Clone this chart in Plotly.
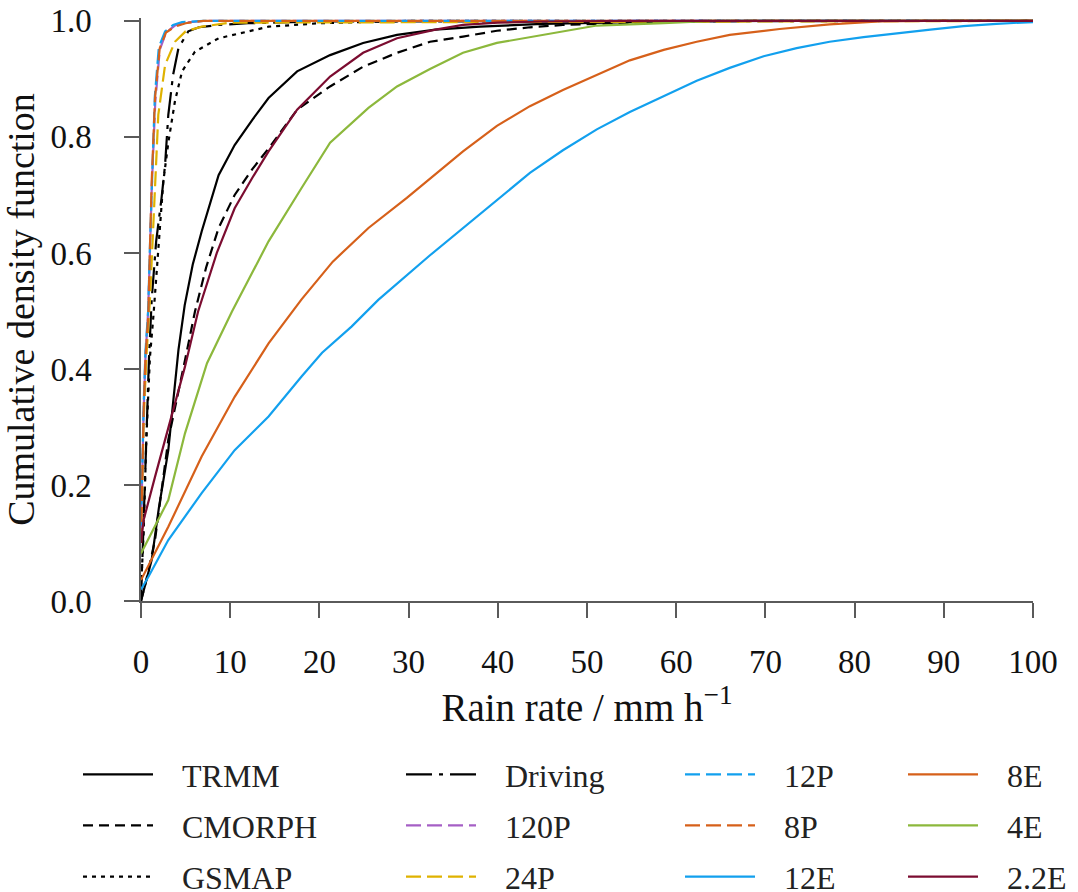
import plotly.graph_objects as go

# ---- data (rain rate mm/h, cumulative fraction) ----
trmm_x = [0, 0.5, 1.2, 2.0, 3.06, 4.2, 4.9, 5.8, 6.8, 8.7, 10.5, 12.5, 14.3, 17.5, 21.2, 24.9, 28.7, 33, 38, 45, 55, 70, 100]
trmm_y = [0, 0.03, 0.071, 0.16, 0.26, 0.433, 0.51, 0.58, 0.637, 0.734, 0.786, 0.83, 0.867, 0.913, 0.941, 0.962, 0.976, 0.985, 0.99, 0.995, 0.998, 1.0, 1.0]

cmorph_x = [0, 0.5, 1.57, 3.06, 4.93, 6.05, 7.3, 8.7, 10.5, 12.5, 14.3, 17.5, 21.2, 24.9, 28.7, 32.4, 36.1, 39.9, 43.6, 47.3, 51, 56, 62, 70, 100]
cmorph_y = [0, 0.03, 0.105, 0.278, 0.415, 0.499, 0.575, 0.643, 0.70, 0.745, 0.78, 0.847, 0.887, 0.921, 0.945, 0.964, 0.973, 0.983, 0.989, 0.993, 0.995, 0.998, 1.0, 1.0, 1.0]

gsmap_x = [0, 0.3, 0.6, 1.0, 1.4, 1.94, 2.5, 3.06, 3.8, 4.6, 6.05, 8.7, 14.3, 20, 30, 100]
gsmap_y = [0.02, 0.12, 0.28, 0.42, 0.493, 0.608, 0.723, 0.79, 0.861, 0.913, 0.947, 0.97, 0.99, 0.996, 1.0, 1.0]

driving_x = [0, 0.3, 0.6, 0.9, 1.2, 1.7, 2.3, 2.7, 3.06, 3.6, 4.2, 5.3, 6.5, 8.7, 12, 20, 100]
driving_y = [0, 0.15, 0.3, 0.42, 0.52, 0.62, 0.694, 0.752, 0.838, 0.907, 0.953, 0.982, 0.989, 0.993, 0.996, 0.999, 1.0]

p120_x = [0, 0.1, 0.3, 0.5, 0.8, 1.0, 1.2, 1.6, 2.1, 2.8, 3.8, 5, 7, 100]
p120_y = [0.12, 0.21, 0.33, 0.42, 0.5, 0.6, 0.71, 0.86, 0.95, 0.98, 0.992, 0.997, 1.0, 1.0]

p24_x = [0, 0.1, 0.3, 0.6, 1.0, 1.3, 1.57, 1.94, 2.7, 3.8, 5, 6.8, 10, 100]
p24_y = [0.1, 0.19, 0.31, 0.42, 0.52, 0.62, 0.723, 0.838, 0.924, 0.964, 0.982, 0.99, 0.997, 1.0]

p12_x = [0, 0.1, 0.3, 0.5, 0.8, 1.0, 1.2, 1.55, 2.0, 2.7, 3.6, 4.6, 7, 100]
p12_y = [0.13, 0.22, 0.34, 0.43, 0.5, 0.61, 0.72, 0.87, 0.955, 0.982, 0.993, 0.998, 1.0, 1.0]

p8_x = [0, 0.1, 0.3, 0.5, 0.82, 1.0, 1.2, 1.57, 2.1, 2.8, 3.8, 5, 7, 100]
p8_y = [0.1, 0.2, 0.33, 0.42, 0.493, 0.608, 0.723, 0.867, 0.953, 0.98, 0.99, 0.996, 1.0, 1.0]

e12_x = [0, 0.8, 3.06, 6.8, 10.5, 14.3, 18.0, 20.3, 23.6, 26.6, 32.4, 36.1, 39.9, 43.6, 47.3, 51.1, 54.8, 58.6, 62.3, 66.0, 69.8, 73.5, 77.2, 81.0, 84.7, 88.5, 92.2, 95.9, 100]
e12_y = [0.02, 0.041, 0.105, 0.186, 0.26, 0.318, 0.387, 0.428, 0.473, 0.519, 0.596, 0.643, 0.692, 0.738, 0.777, 0.813, 0.843, 0.870, 0.897, 0.919, 0.939, 0.953, 0.964, 0.972, 0.979, 0.985, 0.991, 0.995, 0.998]

e8_x = [0, 1.57, 3.06, 6.8, 10.5, 14.3, 18.0, 21.5, 25.5, 29.8, 32.4, 36.1, 39.9, 43.6, 47.3, 51.1, 54.8, 58.6, 62.3, 66.0, 71.6, 77.2, 82.8, 88, 100]
e8_y = [0.036, 0.082, 0.128, 0.249, 0.352, 0.444, 0.52, 0.585, 0.643, 0.695, 0.728, 0.775, 0.819, 0.853, 0.881, 0.907, 0.932, 0.950, 0.964, 0.976, 0.986, 0.994, 0.999, 1.0, 1.0]

e4_x = [0, 3.06, 4.93, 7.4, 10.2, 14.3, 18.0, 21.2, 25.5, 28.7, 32.4, 36.1, 39.9, 43.6, 47.3, 51.1, 58.6, 64, 100]
e4_y = [0.082, 0.174, 0.289, 0.41, 0.499, 0.62, 0.712, 0.790, 0.850, 0.887, 0.917, 0.945, 0.962, 0.972, 0.981, 0.992, 0.996, 1.0, 1.0]

e22_x = [0, 0.3, 1.57, 3.06, 4.93, 6.4, 8.5, 10.5, 12.5, 14.3, 17.5, 21.2, 24.9, 28.7, 33, 36.1, 40, 45, 55, 100]
e22_y = [0.10, 0.14, 0.214, 0.30, 0.404, 0.499, 0.60, 0.677, 0.73, 0.775, 0.847, 0.904, 0.945, 0.970, 0.985, 0.993, 0.997, 0.999, 1.0, 1.0]

x_ticks = [0, 10, 20, 30, 40, 50, 60, 70, 80, 90, 100]
y_ticks = [0.0, 0.2, 0.4, 0.6, 0.8, 1.0]

BLUE = "#12a0ee"
PURPLE = "#a55fc5"
ORANGE = "#d6601a"
YELLOW = "#dfb200"
GREEN = "#8cb83c"
MAROON = "#7b0c30"

series = [
    ("TRMM", trmm_x, trmm_y, "black", "solid", "legend"),
    ("CMORPH", cmorph_x, cmorph_y, "black", "10px,6px", "legend"),
    ("GSMAP", gsmap_x, gsmap_y, "black", "4px,5px", "legend"),
    ("Driving", driving_x, driving_y, "black", "26px,7px,4px,7px", "legend2"),
    ("120P", p120_x, p120_y, PURPLE, "15px,6px", "legend2"),
    ("24P", p24_x, p24_y, YELLOW, "15px,6px", "legend2"),
    ("12P", p12_x, p12_y, BLUE, "15px,6px", "legend3"),
    ("8P", p8_x, p8_y, ORANGE, "15px,6px", "legend3"),
    ("12E", e12_x, e12_y, BLUE, "solid", "legend3"),
    ("8E", e8_x, e8_y, ORANGE, "solid", "legend4"),
    ("4E", e4_x, e4_y, GREEN, "solid", "legend4"),
    ("2.2E", e22_x, e22_y, MAROON, "solid", "legend4"),
]

NBSP = "\u00a0"
fig = go.Figure()
for name, xs, ys, col, dash, leg in series:
    fig.add_trace(go.Scatter(
        x=xs, y=ys, mode="lines", name=NBSP * 3 + name, legend=leg, legendgroup=name,
        line=dict(color=col, width=2.2, dash=dash),
    ))

FONT = "Liberation Serif, Times New Roman, DejaVu Serif, serif"
AX = "#5a5a5a"
TXT = "#111111"
W, H = 1078, 892
L, R, B = 141, 45, 291
ytop = 1.005
plot_h = 580 * ytop
T = H - B - plot_h

leg_common = dict(
    orientation="v", xanchor="left", yanchor="top",
    font=dict(family=FONT, size=32, color="#222"),
    bgcolor="rgba(0,0,0,0)", itemwidth=70, tracegroupgap=6.5,
    traceorder="grouped",
)
leg_y = (601 - 747) / plot_h
def lx(px):
    return (px - L) / (W - L - R)

fig.update_layout(
    width=W, height=H,
    margin=dict(l=L, r=R, t=T, b=B, pad=0, autoexpand=False),
    paper_bgcolor="white", plot_bgcolor="white",
    font=dict(family=FONT, size=33, color=TXT),
    showlegend=True,
    legend=dict(x=lx(78), y=leg_y, **leg_common),
    legend2=dict(x=lx(401), y=leg_y, **leg_common),
    legend3=dict(x=lx(680), y=leg_y, **leg_common),
    legend4=dict(x=lx(903), y=leg_y, **leg_common),
    xaxis=dict(
        range=[0, 100], tickvals=x_ticks, showgrid=False, zeroline=False,
        showline=True, linecolor=AX, linewidth=1.5, automargin=False,
        ticks="outside", ticklen=15, tickwidth=1.5, tickcolor=AX,
        ticklabelstandoff=16,
        tickfont=dict(family=FONT, size=33, color=TXT),
        title=dict(text="Rain rate / mm h<sup>−1</sup>", font=dict(family=FONT, size=39, color=TXT), standoff=0),
    ),
    yaxis=dict(
        range=[0, ytop], tickvals=y_ticks, tickformat=".1f", showgrid=False, zeroline=False,
        showline=True, linecolor=AX, linewidth=1.5, automargin=False,
        ticks="outside", ticklen=15, tickwidth=1.5, tickcolor=AX,
        ticklabelstandoff=26,
        tickfont=dict(family=FONT, size=33, color=TXT),
        title=dict(text="Cumulative density function", font=dict(family=FONT, size=38, color=TXT), standoff=4),
    ),
)

fig.write_html("out.html")
